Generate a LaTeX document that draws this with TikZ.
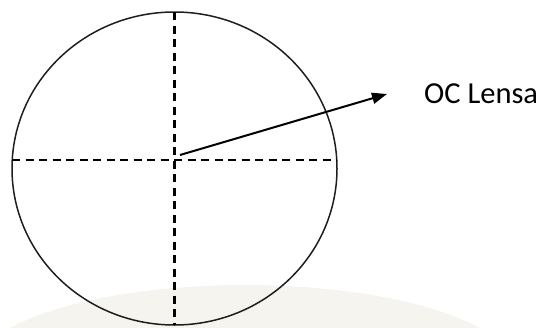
\documentclass[tikz,border=0pt]{standalone}
\usepackage{fontspec}
\setmainfont{Carlito}
\usetikzlibrary{arrows.meta,positioning}
\definecolor{ocInk}{HTML}{1E1E1E}
\definecolor{ocSand}{HTML}{F6F4EE}
\tikzset{
  oc diagram/.style={x=1pt,y=-1pt,line join=miter},
  oc lens/.style={draw=ocInk,line width=1.5pt},
  oc axis/.style={draw=black,line width=2.3pt,dash pattern=on 8pt off 5.5pt},
  oc arrow/.style={-{Triangle[length=15pt,width=11pt]},draw=black,line width=2pt},
  oc label/.style={font=\fontsize{30.5}{36}\selectfont,text=black,inner sep=0pt}
}
\begin{document}
\begin{tikzpicture}[oc diagram]
\useasboundingbox (0,0) rectangle (549,327);
% faint backdrop at the bottom
\begin{scope}
  \clip (0,0) rectangle (549,327);
  \fill[ocSand] (245,370) ellipse [x radius=270pt, y radius=85pt];
\end{scope}
% lens outline and its axes
\draw[oc lens] (174.5,168.5) ellipse [x radius=162.5pt, y radius=156.5pt];
\coordinate (centre) at (174.5,160);
\coordinate (top) at (174.5,12);
\coordinate (bottom) at (174.5,325);
\coordinate (left) at (12,160);
\coordinate (right) at (337,160);
\draw[oc axis] (left) -- (right);
\draw[oc axis] (top) -- (bottom);
% optical centre
\node[oc label,anchor=west] (label) at (424,94) {OC Lensa};
\coordinate[left=37pt of label] (tip);
\coordinate (start) at (180,155);
\draw[oc arrow] (start) -- (tip);
\end{tikzpicture}
\end{document}
